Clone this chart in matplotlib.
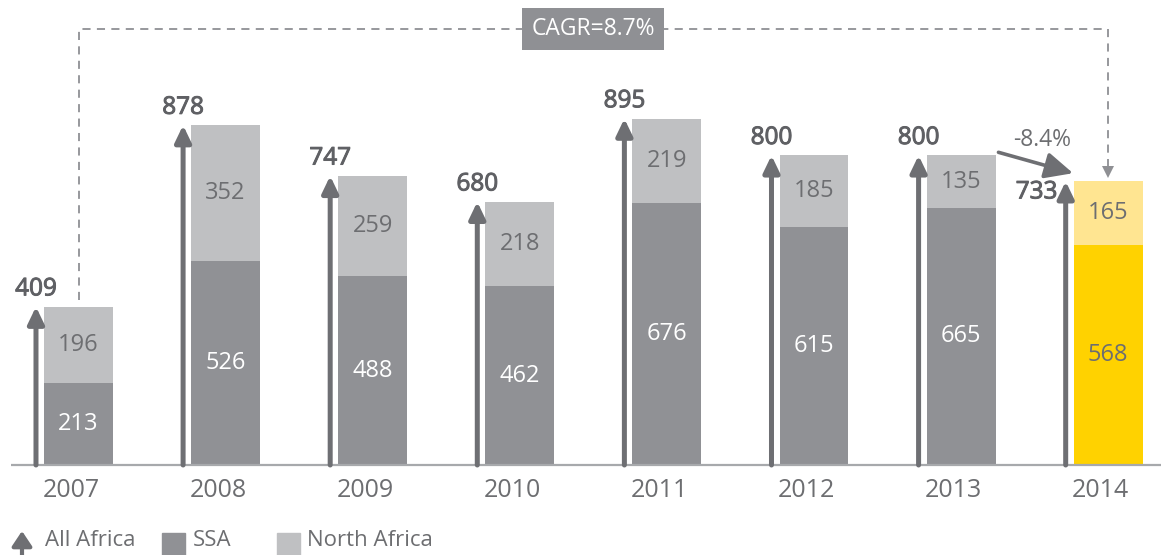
import numpy as np
import matplotlib
matplotlib.use("Agg")
import matplotlib.pyplot as plt
import matplotlib.patheffects as pe
from matplotlib.patches import Rectangle, FancyArrowPatch

plt.rcParams['font.family'] = ['Open Sans', 'DejaVu Sans']

# data
years = ['2007', '2008', '2009', '2010', '2011', '2012', '2013', '2014']
ssa = [213, 526, 488, 462, 676, 615, 665, 568]
north_africa = [196, 352, 259, 218, 219, 185, 135, 165]
all_africa = [409, 878, 747, 680, 895, 800, 800, 733]
cagr_label = 'CAGR=8.7%'
change_label = '-8.4%'

# colours
c_ssa = '#909195'
c_na = '#bfc0c2'
c_ssa_hi = '#ffd200'
c_na_hi = '#ffe591'
c_arrow = '#6e6f73'
c_text = '#6d6e71'
c_total = '#5f6064'
c_dash = '#8f9094'

W, H = 1161, 555
fig = plt.figure(figsize=(W / 100, H / 100), dpi=100)
# axes: baseline at y=465px, 0.387 px per unit
ax = fig.add_axes([0, (H - 465) / H, 1, 465 / H])
ax.set_ylim(0, 465 / 0.387)
step = 147.1
ax.set_xlim(-78.5 / step, (W - 78.5) / step)
for s in ax.spines.values():
    s.set_visible(False)
ax.set_yticks([])

x = np.arange(len(years))
bw = 0.468
last = len(years) - 1
col_ssa = [c_ssa] * last + [c_ssa_hi]
col_na = [c_na] * last + [c_na_hi]

ax.bar(x, ssa, width=bw, color=col_ssa, zorder=2)
ax.bar(x, north_africa, width=bw, bottom=ssa, color=col_na, zorder=2)

# baseline
ax.plot([x[0] - 0.46, x[-1] + 0.4], [0, 0], color='#a7a9ac', lw=1.6,
        solid_capstyle='butt', zorder=3, clip_on=False)

# segment labels
for i in x:
    ssa_col = 'white' if i < last else c_text
    ax.text(i, ssa[i] / 2, str(ssa[i]), ha='center', va='center',
            fontsize=17, color=ssa_col, zorder=4)
    ax.text(i, ssa[i] + north_africa[i] / 2, str(north_africa[i]),
            ha='center', va='center', fontsize=17, color=c_text, zorder=4)

# total arrows
ax_off = -0.289
bolder = [pe.withStroke(linewidth=0.7, foreground=c_total)]
for i in x:
    xa = i + ax_off
    ax.annotate('', xy=(xa, all_africa[i]), xytext=(xa, 0),
                arrowprops=dict(arrowstyle='-|>,head_length=0.5,head_width=0.24',
                                mutation_scale=20, lw=3.6, color=c_arrow,
                                shrinkA=0, shrinkB=0), zorder=3)
    if i < last:
        t = ax.annotate(str(all_africa[i]), xy=(xa, all_africa[i]), xytext=(0, 12.5),
                        textcoords='offset points', ha='center', va='center',
                        fontsize=17.5, color=c_total)
    else:
        t = ax.annotate(str(all_africa[i]), xy=(xa, all_africa[i]), xytext=(-6, -8),
                        textcoords='offset points', ha='right', va='center',
                        fontsize=17.5, color=c_total)
    t.set_path_effects(bolder)

# CAGR dashed connector
y_top = (465 - 29) / 0.387
ax.plot([0, 0, last, last], [all_africa[0] + 18, y_top, y_top, all_africa[last] + 30],
        color=c_dash, lw=1.3, dashes=(4.5, 3.5), zorder=1)
ax.plot([last], [all_africa[last] + 24], marker='v', ms=9, color=c_dash,
        markeredgewidth=0, zorder=1)
ax.text(last / 2, y_top, cagr_label, ha='center', va='center', fontsize=16.5,
        color='white', zorder=5,
        bbox=dict(boxstyle='square,pad=0.4', fc=c_dash, ec='none'))

# -8.4% arrow
ax.annotate('', xy=(last - bw / 2 - 0.005, all_africa[last] + 21),
            xytext=(last - 1 + bw / 2 + 0.02, all_africa[last - 1] + 8),
            arrowprops=dict(arrowstyle='-|>,head_length=0.85,head_width=0.4',
                            mutation_scale=20, lw=2.6, color=c_arrow,
                            shrinkA=0, shrinkB=0), zorder=4)
ax.text(last - 0.45, all_africa[last - 1] + 40, change_label, ha='center',
        va='center', fontsize=16.5, color=c_text)

# year labels
ax.set_xticks(x - 0.05)
ax.set_xticklabels(years, fontsize=18, color=c_text)
ax.tick_params(axis='x', length=0, pad=9.5)


# legend (figure pixel coordinates)
def fx(px):
    return px / W


def fy(py):
    return 1 - py / H


fig.add_artist(FancyArrowPatch((fx(22), fy(556)), (fx(22), fy(531)),
                               transform=fig.transFigure,
                               arrowstyle='-|>,head_length=0.45,head_width=0.3',
                               mutation_scale=20, lw=3, color=c_arrow,
                               shrinkA=0, shrinkB=0))
fig.text(fx(45), fy(540), 'All Africa', fontsize=16, color=c_text, va='center')
fig.add_artist(Rectangle((fx(162), fy(556)), fx(23), 23 / H, color=c_ssa,
                         transform=fig.transFigure))
fig.text(fx(193), fy(540), 'SSA', fontsize=16, color=c_text, va='center')
fig.add_artist(Rectangle((fx(277), fy(556)), fx(23), 23 / H, color=c_na,
                         transform=fig.transFigure))
fig.text(fx(307), fy(540), 'North Africa', fontsize=16, color=c_text, va='center')

fig.savefig('out.png', dpi=100)
